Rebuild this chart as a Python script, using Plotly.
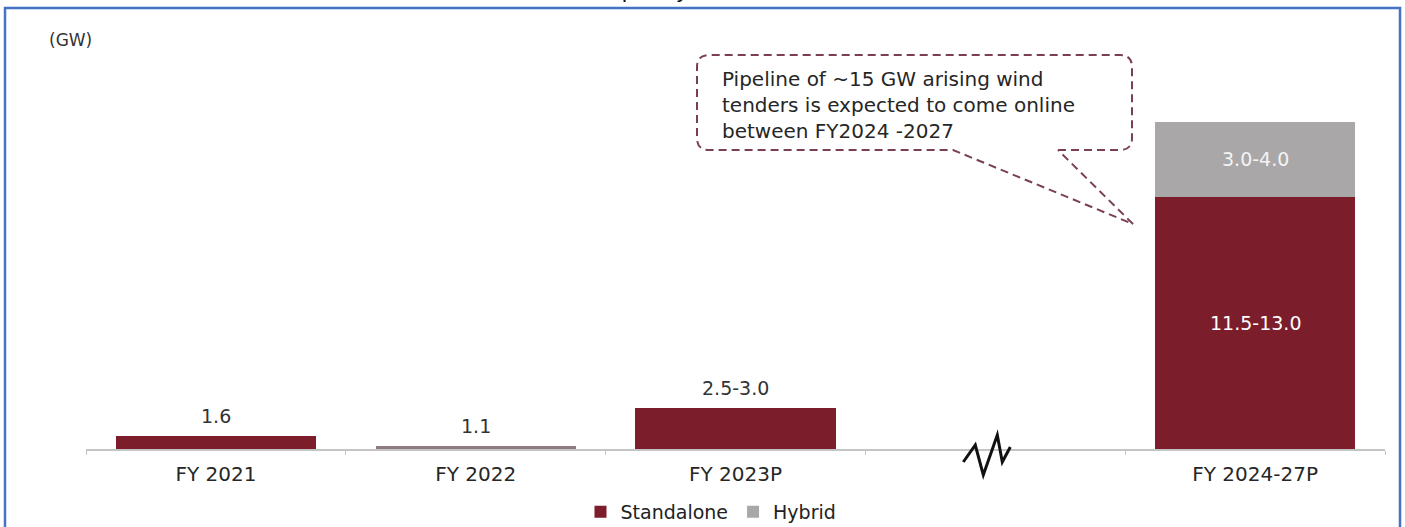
import plotly.graph_objects as go

# ---------------- data ----------------
categories = ["FY 2021", "FY 2022", "FY 2023P", " ", "FY 2024-27P"]
# bar heights as drawn in the picture (chart is not to scale)
standalone = [0.62, 0.15, 1.92, None, 11.8]
hybrid = [None, None, None, None, 3.5]
standalone_labels = ["1.6", "1.1", "2.5-3.0", "", "11.5-13.0"]
hybrid_labels = ["", "", "", "", "3.0-4.0"]
callout_lines = ["Pipeline of ~15 GW arising wind",
                 "tenders is expected to come online",
                 "between FY2024 -2027"]

RED = "#7b1d2a"
GREY = "#a9a7a8"
FONT = "DejaVu Sans"

W, H = 1405, 527
L, R, T, B = 86, 1385, 20, 449


def px(X):
    return (X - L) / (R - L)


def py(Y):
    return (B - Y) / (B - T)


fig = go.Figure()
fig.add_trace(go.Bar(
    x=categories, y=standalone, name="Standalone",
    marker=dict(color=[RED, "#8e7b81", RED, RED, RED], line=dict(width=0)),
    hoverinfo="skip",
))
fig.add_trace(go.Bar(
    x=categories, y=hybrid, name="Hybrid",
    marker=dict(color=GREY, line=dict(width=0)),
    hoverinfo="skip",
))

annotations = []
for c, s, h, sl, hl in zip(categories, standalone, hybrid, standalone_labels, hybrid_labels):
    if s is None:
        continue
    if h is None:
        annotations.append(dict(x=c, y=s, xref="x", yref="y", text=sl, showarrow=False,
                                yanchor="bottom", yshift=7,
                                font=dict(family=FONT, size=19, color="#333333")))
    else:
        annotations.append(dict(x=c, y=s / 2, xref="x", yref="y", text=sl, showarrow=False,
                                font=dict(family=FONT, size=19, color="#ffffff")))
        annotations.append(dict(x=c, y=s + h / 2, xref="x", yref="y", text=hl, showarrow=False,
                                font=dict(family=FONT, size=19, color="#f4f4f4")))

# unit label
annotations.append(dict(x=px(47), y=py(40), xref="paper", yref="paper", text="(GW)",
                        showarrow=False, xanchor="left", yanchor="middle",
                        font=dict(family=FONT, size=17, color="#333333")))
# callout text
annotations.append(dict(x=px(720), y=py(65), xref="paper", yref="paper",
                        text="<br>".join(callout_lines), showarrow=False,
                        xanchor="left", yanchor="top", align="left",
                        font=dict(family=FONT, size=20, color="#262626")))
# cut-off title fragment at very top
annotations.append(dict(x=px(594), y=py(5), xref="paper", yref="paper", text="capacity",
                        showarrow=False, xanchor="left", yanchor="bottom",
                        font=dict(family=FONT, size=22, color="#111111")))

shapes = []
# blue frame
shapes.append(dict(type="rect", xref="paper", yref="paper",
                   x0=px(5), x1=px(1400), y0=py(535), y1=py(8),
                   line=dict(color="#4472C4", width=2.5), fillcolor="rgba(0,0,0,0)", layer="above"))

# callout bubble
r = 12
bx0, bx1, by0, by1 = 697, 1132, 55, 150
tip = (1133, 224)
gapL, gapR = 953, 1058


def P(X, Y):
    return f"{px(X):.5f},{py(Y):.5f}"


path = (f"M{P(gapR, by1)} L{P(bx1 - r, by1)} Q{P(bx1, by1)} {P(bx1, by1 - r)} "
        f"L{P(bx1, by0 + r)} Q{P(bx1, by0)} {P(bx1 - r, by0)} "
        f"L{P(bx0 + r, by0)} Q{P(bx0, by0)} {P(bx0, by0 + r)} "
        f"L{P(bx0, by1 - r)} Q{P(bx0, by1)} {P(bx0 + r, by1)} "
        f"L{P(gapL, by1)} L{P(*tip)} L{P(gapR, by1)}")
shapes.append(dict(type="path", xref="paper", yref="paper", path=path,
                   line=dict(color="#7a4050", width=2, dash="8px,5px")))

# axis break zigzag at the empty category
brk = categories.index(" ")
shapes.append(dict(type="path", xref="paper", yref="paper",
                   xsizemode="pixel", ysizemode="pixel",
                   xanchor=(brk + 0.5) / len(categories), yanchor=0,
                   path="M-32,-13 L-20,4 L-12,-26 L2,14 L7,-13 L15,2",
                   line=dict(color="#111111", width=3)))

fig.update_layout(
    width=W, height=H,
    margin=dict(l=L, r=W - R, t=T, b=H - B, autoexpand=False),
    paper_bgcolor="white", plot_bgcolor="white",
    barmode="stack", bargap=0.23,
    showlegend=True,
    legend=dict(orientation="h", xref="container", yref="container",
                x=711 / W, y=1 - 512 / H, xanchor="center", yanchor="middle",
                font=dict(family=FONT, size=19, color="#222222"),
                traceorder="normal", itemwidth=30, bgcolor="rgba(0,0,0,0)"),
    xaxis=dict(type="category", categoryorder="array", categoryarray=categories,
               showline=True, linecolor="#c4c4c4", linewidth=1.5,
               ticks="outside", ticklen=4, tickcolor="#c4c4c4", tickson="boundaries",
               ticklabelstandoff=6,
               tickfont=dict(family=FONT, size=20, color="#262626"),
               showgrid=False, zeroline=False, fixedrange=True),
    yaxis=dict(range=[0, 20.05], visible=False, showgrid=False, zeroline=False, fixedrange=True),
    annotations=annotations, shapes=shapes,
    font=dict(family=FONT),
)

fig.write_html("out.html")
